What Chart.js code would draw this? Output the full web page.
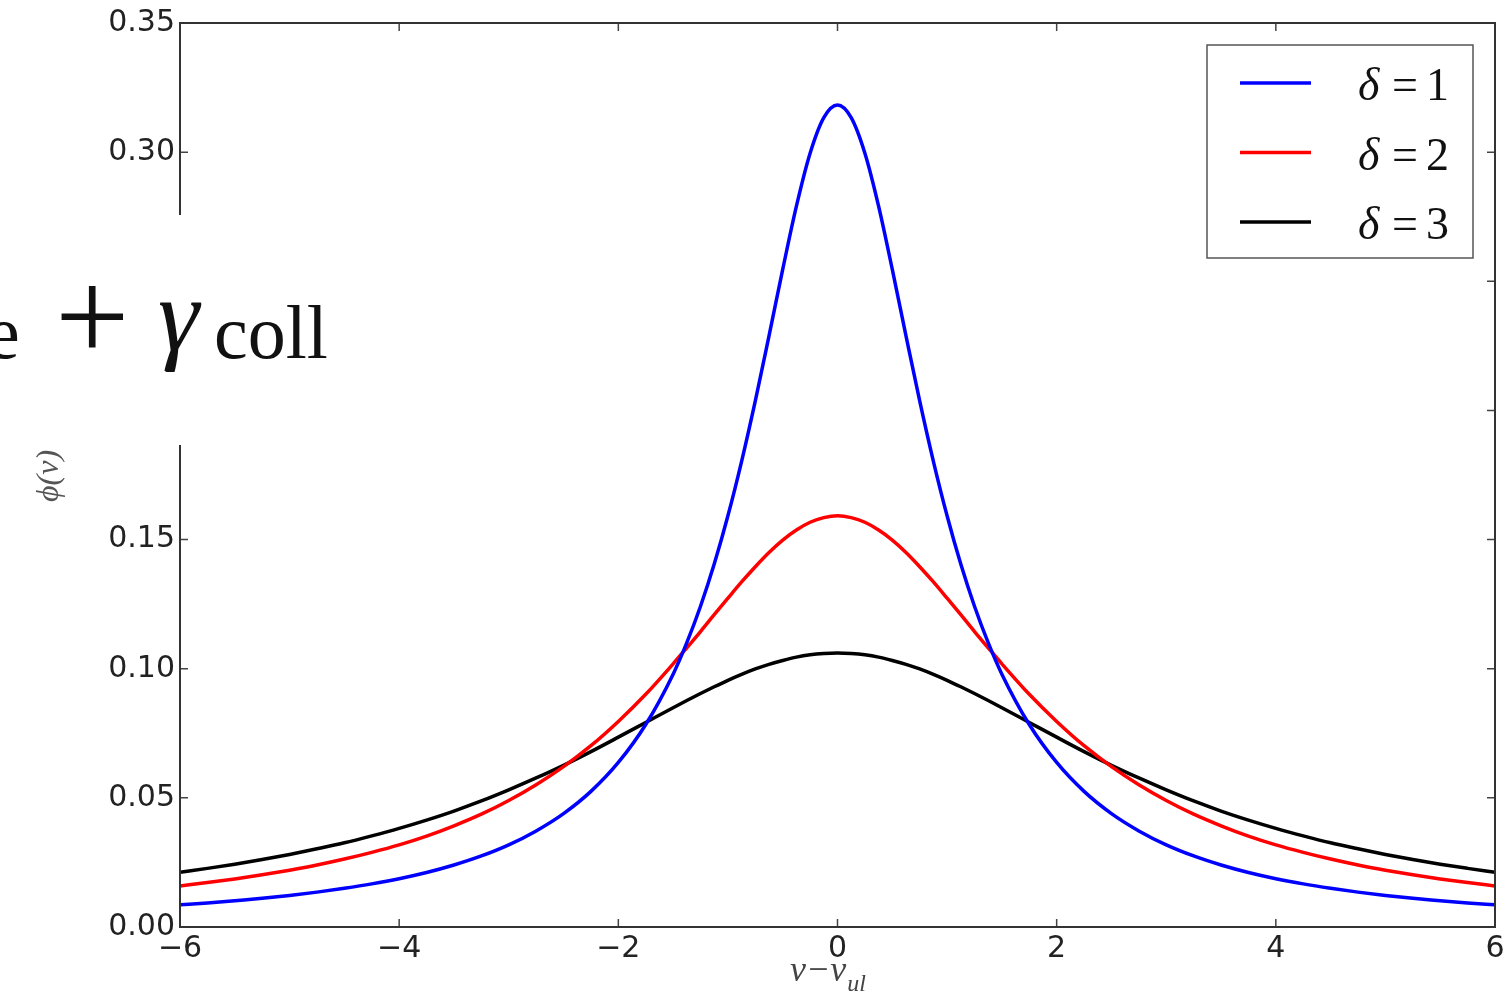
<!DOCTYPE html>
<html>
<head>
<meta charset="utf-8">
<script src="https://cdn.jsdelivr.net/npm/chart.js@4.4.1/dist/chart.umd.min.js"></script>
<style>
  body { margin: 0; background: #fff; }
  #wrap { width: 1512px; height: 1001px; }
</style>
</head>
<body>
<div id="wrap"><canvas id="lineChart" width="1512" height="1001"></canvas></div>
<script>
// frequency offset nu - nu_ul (denser sampling round the line centre)
var nuOffset = [-6, -5.75, -5.5, -5.25, -5, -4.75, -4.5, -4.25, -4, -3.75, -3.5, -3.25, -3, -2.75, -2.5, -2.25, -2, -1.75, -1.5,
  -1.375, -1.25, -1.125, -1, -0.875, -0.75, -0.625, -0.5, -0.375, -0.25, -0.125,
  0, 0.125, 0.25, 0.375, 0.5, 0.625, 0.75, 0.875, 1, 1.125, 1.25, 1.375,
  1.5, 1.75, 2, 2.25, 2.5, 2.75, 3, 3.25, 3.5, 3.75, 4, 4.25, 4.5, 4.75, 5, 5.25, 5.5, 5.75, 6];

var phiDelta1 = [0.0086, 0.0093, 0.0102, 0.0111, 0.0122, 0.0135, 0.0150, 0.0167, 0.0187, 0.0211, 0.0240, 0.0275, 0.0318, 0.0372, 0.0439, 0.0525, 0.0637, 0.0784, 0.0979,
  0.1101, 0.1242, 0.1405, 0.1592, 0.1803, 0.2037, 0.2289, 0.2546, 0.2791, 0.2996, 0.3134,
  0.3183, 0.3134, 0.2996, 0.2791, 0.2546, 0.2289, 0.2037, 0.1803, 0.1592, 0.1405, 0.1242, 0.1101,
  0.0979, 0.0784, 0.0637, 0.0525, 0.0439, 0.0372, 0.0318, 0.0275, 0.0240, 0.0211, 0.0187, 0.0167, 0.0150, 0.0135, 0.0122, 0.0111, 0.0102, 0.0093, 0.0086];

var phiDelta2 = [0.0159, 0.0172, 0.0186, 0.0202, 0.0220, 0.0240, 0.0263, 0.0289, 0.0318, 0.0352, 0.0392, 0.0437, 0.0490, 0.0551, 0.0621, 0.0702, 0.0796, 0.0901, 0.1019,
  0.1081, 0.1144, 0.1209, 0.1273, 0.1336, 0.1395, 0.1450, 0.1498, 0.1537, 0.1567, 0.1585,
  0.1592, 0.1585, 0.1567, 0.1537, 0.1498, 0.1450, 0.1395, 0.1336, 0.1273, 0.1209, 0.1144, 0.1081,
  0.1019, 0.0901, 0.0796, 0.0702, 0.0621, 0.0551, 0.0490, 0.0437, 0.0392, 0.0352, 0.0318, 0.0289, 0.0263, 0.0240, 0.0220, 0.0202, 0.0186, 0.0172, 0.0159];

var phiDelta3 = [0.0212, 0.0227, 0.0243, 0.0261, 0.0281, 0.0303, 0.0326, 0.0353, 0.0382, 0.0414, 0.0449, 0.0488, 0.0531, 0.0577, 0.0626, 0.0679, 0.0735, 0.0792, 0.0849,
  0.0877, 0.0904, 0.0930, 0.0955, 0.0978, 0.0999, 0.1017, 0.1032, 0.1045, 0.1054, 0.1059,
  0.1061, 0.1059, 0.1054, 0.1045, 0.1032, 0.1017, 0.0999, 0.0978, 0.0955, 0.0930, 0.0904, 0.0877,
  0.0849, 0.0792, 0.0735, 0.0679, 0.0626, 0.0577, 0.0531, 0.0488, 0.0449, 0.0414, 0.0382, 0.0353, 0.0326, 0.0303, 0.0281, 0.0261, 0.0243, 0.0227, 0.0212];

var seriesNames = ['1', '2', '3'];
var xTicks = [-6, -4, -2, 0, 2, 4, 6];
var yTicks = [0, 0.05, 0.10, 0.15, 0.20, 0.25, 0.30, 0.35];

function toPoints(ys) {
  return nuOffset.map(function (x, i) { return { x: x, y: ys[i] }; });
}

// matplotlib style frame, inward ticks, legend box, axis labels, pasted equation fragment
var mplDecor = {
  id: 'mplDecor',
  afterDraw: function (chart) {
    var ctx = chart.ctx;
    var a = chart.chartArea;
    var xs = chart.scales.x, ys = chart.scales.y;
    ctx.save();

    // ticks on all four sides
    ctx.strokeStyle = '#444';
    ctx.lineWidth = 1.5;
    xTicks.forEach(function (v) {
      var px = xs.getPixelForValue(v);
      ctx.beginPath();
      ctx.moveTo(px, a.bottom); ctx.lineTo(px, a.bottom - 8);
      ctx.moveTo(px, a.top); ctx.lineTo(px, a.top + 8);
      ctx.stroke();
    });
    yTicks.forEach(function (v) {
      var py = ys.getPixelForValue(v);
      ctx.beginPath();
      ctx.moveTo(a.left, py); ctx.lineTo(a.left + 8, py);
      ctx.moveTo(a.right, py); ctx.lineTo(a.right - 8, py);
      ctx.stroke();
    });

    // frame
    ctx.strokeStyle = '#333';
    ctx.lineWidth = 2;
    ctx.strokeRect(a.left, a.top, a.right - a.left, a.bottom - a.top);

    // legend
    ctx.fillStyle = '#fff';
    ctx.fillRect(1207, 45, 266, 213);
    ctx.strokeStyle = '#555';
    ctx.lineWidth = 1.5;
    ctx.strokeRect(1207, 45, 266, 213);
    chart.data.datasets.forEach(function (ds, i) {
      var y = 83 + i * 69.5;
      ctx.strokeStyle = ds.borderColor;
      ctx.lineWidth = 3.5;
      ctx.beginPath();
      ctx.moveTo(1240, y); ctx.lineTo(1311, y);
      ctx.stroke();
      ctx.fillStyle = '#111';
      ctx.textBaseline = 'alphabetic';
      ctx.textAlign = 'left';
      ctx.font = 'italic 46px "Liberation Serif"';
      ctx.fillText('\u03b4', 1358, y + 17);
      ctx.font = '46px "Liberation Serif"';
      ctx.fillText('=', 1392, y + 17);
      ctx.fillText(seriesNames[i], 1426, y + 17);
    });

    // x axis title
    ctx.fillStyle = '#444';
    ctx.textAlign = 'left';
    ctx.font = 'italic 36px "Liberation Serif"';
    var main = '\u03bd\u2212\u03bd';
    ctx.fillText(main, 790, 981);
    var w = ctx.measureText(main).width;
    ctx.font = 'italic 24px "Liberation Serif"';
    ctx.fillText('ul', 790 + w + 1, 991);

    // y axis title
    ctx.save();
    ctx.translate(58, 476);
    ctx.rotate(-Math.PI / 2);
    ctx.textAlign = 'center';
    ctx.fillStyle = '#555';
    ctx.font = 'italic 32px "Liberation Serif"';
    ctx.fillText('\u03d5(\u03bd)', 0, 0);
    ctx.restore();

    // white patch with the equation fragment over the axis
    ctx.fillStyle = '#fff';
    ctx.fillRect(0, 215, 340, 230);
    ctx.fillStyle = '#111';
    ctx.textAlign = 'left';
    ctx.font = '76px "Liberation Serif"';
    ctx.fillText('e', -14, 358);
    ctx.font = '132px "Liberation Serif"';
    ctx.fillText('+', 55, 360);
    ctx.font = 'italic 104px "Liberation Serif"';
    ctx.fillText('\u03b3', 158, 350);
    ctx.font = '76px "Liberation Serif"';
    ctx.fillText('coll', 214, 358);

    ctx.restore();
  }
};

var ctxLine = document.getElementById('lineChart').getContext('2d');
var myChart = new Chart(ctxLine, {
  type: 'line',
  data: {
    datasets: [{
      label: '\u03b4=1',
      data: toPoints(phiDelta1),
      borderColor: '#0000ff'
    },
    {
      label: '\u03b4=2',
      data: toPoints(phiDelta2),
      borderColor: '#ff0000'
    },
    {
      label: '\u03b4=3',
      data: toPoints(phiDelta3),
      borderColor: '#000000'
    }]
  },
  options: {
    responsive: false,
    animation: false,
    devicePixelRatio: 1,
    layout: { padding: { left: 0, right: 17, top: 22, bottom: 0 } },
    elements: {
      line: { borderWidth: 3.5, cubicInterpolationMode: 'monotone', fill: false },
      point: { radius: 0 }
    },
    plugins: {
      legend: { display: false },
      tooltip: { enabled: false }
    },
    scales: {
      x: {
        type: 'linear',
        min: -6,
        max: 6,
        afterFit: function (scale) { scale.height = 74; },
        afterBuildTicks: function (scale) { scale.ticks = xTicks.map(function (v) { return { value: v }; }); },
        ticks: {
          padding: 4,
          color: '#222',
          font: { family: 'DejaVu Sans', size: 30 },
          maxRotation: 0,
          callback: function (v) { return v < 0 ? '\u2212' + Math.abs(v) : String(v); }
        },
        grid: { display: false, drawTicks: false, tickLength: 0 },
        border: { display: false }
      },
      y: {
        min: 0,
        max: 0.35,
        afterFit: function (scale) { scale.width = 180; },
        afterBuildTicks: function (scale) { scale.ticks = yTicks.map(function (v) { return { value: v }; }); },
        ticks: {
          padding: 5,
          color: '#222',
          font: { family: 'DejaVu Sans', size: 30 },
          callback: function (v) { return v.toFixed(2); }
        },
        grid: { display: false, drawTicks: false, tickLength: 0 },
        border: { display: false }
      }
    }
  },
  plugins: [mplDecor]
});
</script>
</body>
</html>
